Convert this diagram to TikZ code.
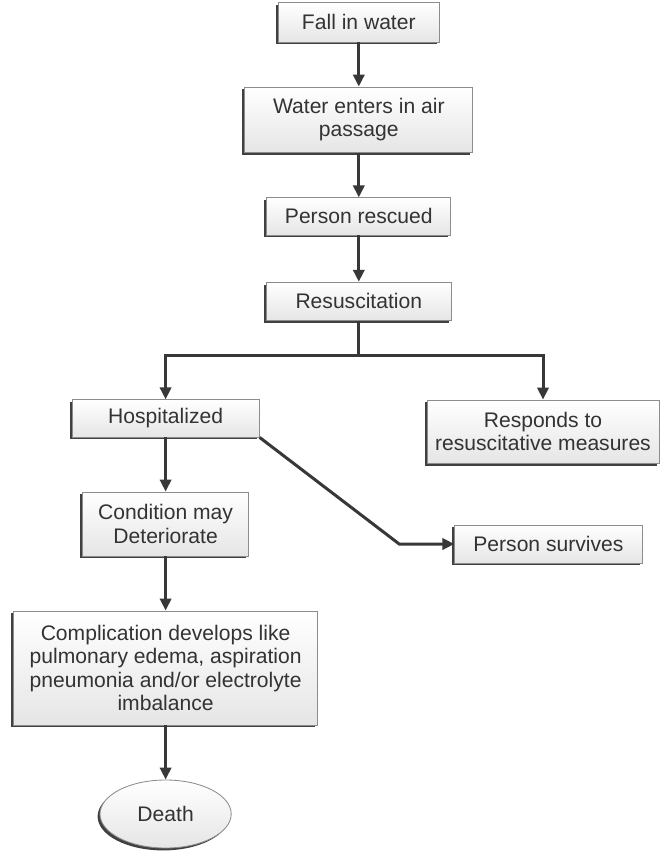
\documentclass[tikz,border=0pt]{standalone}
\usepackage{fontspec}
\setmainfont{Liberation Sans}
\usetikzlibrary{shapes.geometric,shadows,arrows.meta}

\begin{document}
\begin{tikzpicture}
    \tikzstyle{stage}=[rectangle,draw=black!45,line width=0.6pt,top color=white,bottom color=black!10,
      drop shadow={shadow xshift=-0.06cm,shadow yshift=-0.06cm,fill=black!75,opacity=1},
      text=black!80,align=center,inner sep=0pt,font=\fontsize{15}{16.8}\selectfont]
    \tikzstyle{ending}=[stage,ellipse]
    \tikzstyle{link}=[draw=black!78,line width=0.075cm,-{Triangle[length=0.3cm,width=0.28cm]}]
    \useasboundingbox (0,0) rectangle (16.475,-21.275);
    % main column
    \node (fall) at (8.97,-0.56) [stage,minimum width=4.03cm,minimum height=0.98cm] {Fall in water};
    \node (enter) at (8.97,-2.99) [stage,minimum width=5.7cm,minimum height=1.63cm] {Water enters in air\\passage};
    \node (rescued) at (8.97,-5.41) [stage,minimum width=4.6cm,minimum height=0.93cm] {Person rescued};
    \node (resus) at (8.97,-7.53) [stage,minimum width=4.63cm,minimum height=0.95cm] {Resuscitation};
    \coordinate (split) at (8.97,-8.875);
    % branches
    \node (hosp) at (4.14,-10.46) [stage,minimum width=4.68cm,minimum height=0.93cm] {Hospitalized};
    \node (responds) at (13.575,-10.79) [stage,minimum width=5.8cm,minimum height=1.58cm] {Responds to\\resuscitative measures};
    \node (cond) at (4.14,-13.1) [stage,minimum width=4.15cm,minimum height=1.6cm] {Condition may\\Deteriorate};
    \node (survives) at (13.71,-13.6) [stage,minimum width=4.68cm,minimum height=0.95cm] {Person survives};
    \coordinate (bend) at (9.98,-13.6);
    \node (compl) at (4.14,-16.7) [stage,minimum width=7.6cm,minimum height=2.85cm] {Complication develops like\\pulmonary edema, aspiration\\pneumonia and/or electrolyte\\imbalance};
    \node (death) at (4.14,-20.35) [ending,minimum width=3.28cm,minimum height=1.7cm] {Death};
    % connectors
    \draw [link] (fall) -- (enter);
    \draw [link] (enter) -- (rescued);
    \draw [link] (rescued) -- (resus);
    \draw [link,-] (resus) -- (split);
    \draw [link] (split) -| (hosp);
    \draw [link] (split) -| (responds);
    \draw [link] (hosp) -- (cond);
    \draw [link] (hosp.south east) -- (bend) -- (survives);
    \draw [link] (cond) -- (compl);
    \draw [link] (compl) -- (death);
  \end{tikzpicture}
\end{document}
